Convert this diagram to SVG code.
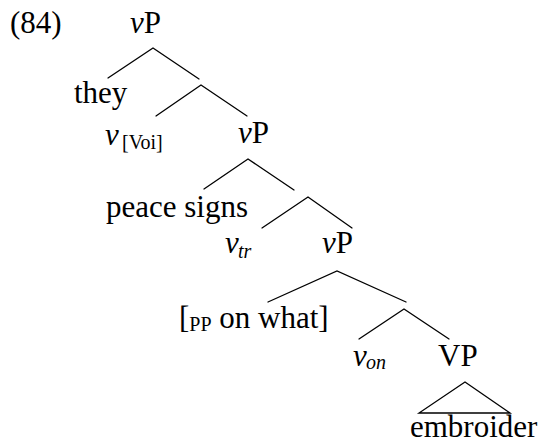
<svg xmlns="http://www.w3.org/2000/svg" width="541" height="445" viewBox="0 0 541 445">
  <style>
    text { font-family: "Liberation Serif", "Times New Roman", serif; font-size: 31px; fill: #000; }
    .it { font-style: italic; }
    .sub { font-size: 20px; }
    .edge { stroke: #000; stroke-width: 1.3; fill: none; stroke-linecap: round; }
  </style>
  <rect width="541" height="445" fill="#fff"/>

  <!-- example number -->
  <text id="exnum" x="10" y="33">(84)</text>

  <!-- branches -->
  <g id="connectors">
    <path class="edge" d="M108 78 L153 48 L199 79"/>
    <path class="edge" d="M156 116 L201 85 L247 116"/>
    <path class="edge" d="M204 189 L248 159 L294 190"/>
    <path class="edge" d="M262 228 L308 197 L352 228"/>
    <path class="edge" d="M268 302 L337 271 L406 302"/>
    <path class="edge" d="M359 339 L404 309 L449 339"/>
    <path class="edge" d="M465 382 L419 413 L510 413 Z" stroke-linejoin="miter"/>
  </g>

  <g id="vP1"><text x="130" y="33"><tspan class="it">v</tspan>P</text></g>
  <g id="they"><text x="74" y="103">they</text></g>
  <g id="vVoi"><text x="105" y="145"><tspan class="it">v</tspan><tspan class="sub" x="122" y="149">[Voi]</tspan></text></g>
  <g id="vP2"><text x="238" y="143"><tspan class="it">v</tspan>P</text></g>
  <g id="peacesigns"><text x="106" y="217">peace signs</text></g>
  <g id="vtr"><text x="225" y="253"><tspan class="it">v</tspan><tspan class="it sub" x="238" y="258">tr</tspan></text></g>
  <g id="vP3"><text x="322" y="253"><tspan class="it">v</tspan>P</text></g>
  <g id="pp"><text x="179" y="328">[<tspan class="sub" y="331">PP</tspan><tspan y="328"> on what]</tspan></text></g>
  <g id="von"><text x="353" y="366"><tspan class="it">v</tspan><tspan class="it sub" x="366" y="369">on</tspan></text></g>
  <g id="VP"><text x="438" y="366">VP</text></g>
  <g id="embroider"><text x="410" y="437">embroider</text></g>
</svg>
